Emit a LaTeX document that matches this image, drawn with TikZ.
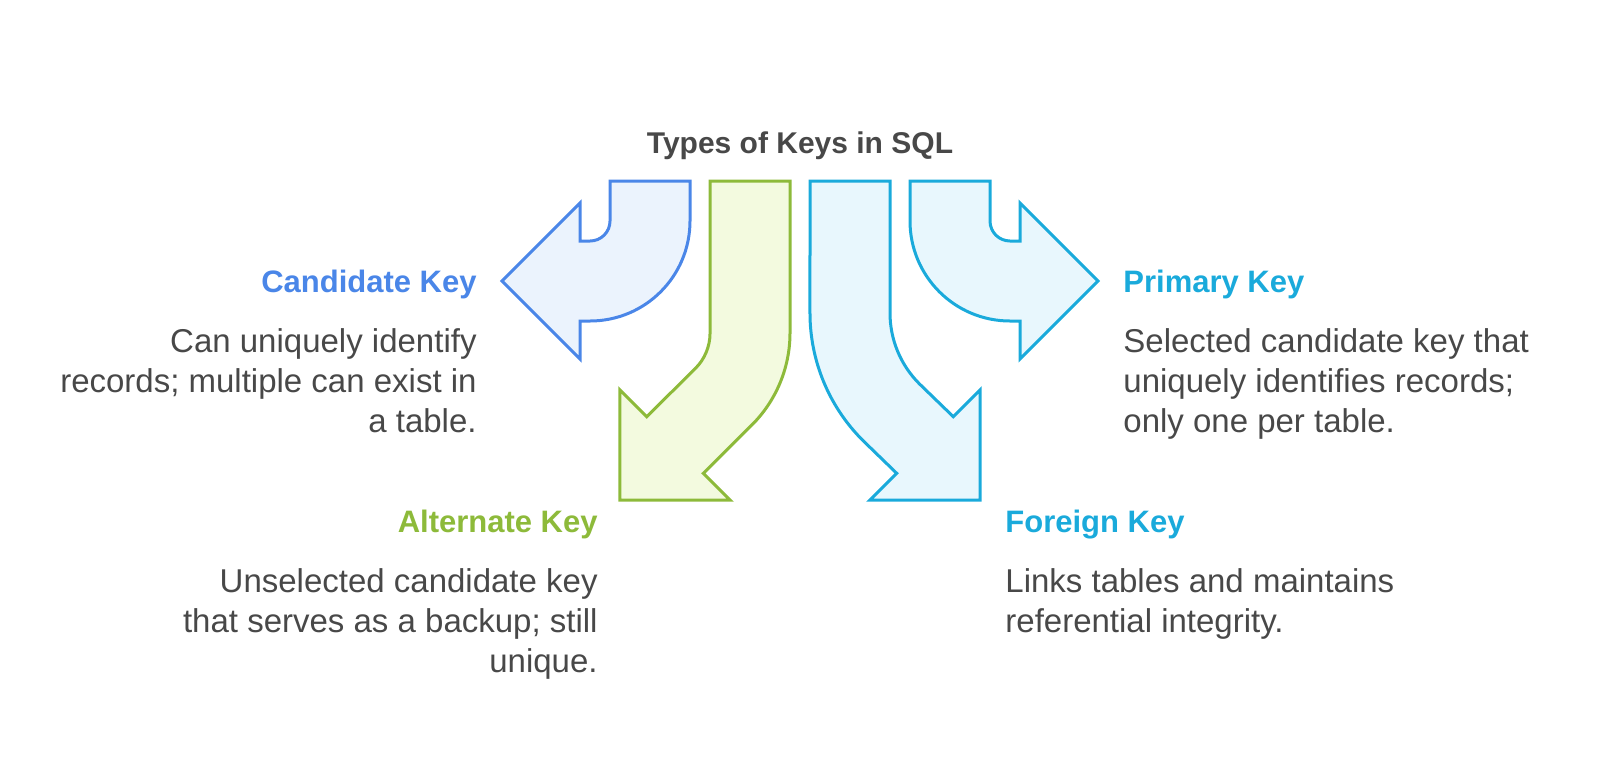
\documentclass[tikz,border=0pt]{standalone}
\usepackage{fontspec}
\setmainfont{Liberation Sans}
\usepackage{tikz}

\definecolor{candline}{HTML}{4A86E8}
\definecolor{candfill}{HTML}{EBF3FD}
\definecolor{altline}{HTML}{8DBA3A}
\definecolor{altfill}{HTML}{F3FADF}
\definecolor{keyline}{HTML}{1AAADB}
\definecolor{keyfill}{HTML}{E8F7FD}
\definecolor{bodygray}{HTML}{484848}

\begin{document}
\begin{tikzpicture}[x=0.5pt, y=-0.5pt,
    keyarrow/.style={line width=1.5pt, line join=miter},
    keytitle/.style={inner sep=0pt, anchor=base, text=bodygray,
      font=\fontsize{15}{18}\selectfont\bfseries},
    keyhead/.style={inner sep=0pt, font=\fontsize{15.5}{18}\selectfont\bfseries},
    keybody/.style={inner sep=0pt, text=bodygray,
      font=\fontsize{16.5}{20}\selectfont}]

    \useasboundingbox (0,0) rectangle (1600,762);

    \node[keytitle] (title) at (800,153) {Types of Keys in SQL};

    % candidate key arrow, bends left
    \draw[keyarrow, draw=candline, fill=candfill]
      (690,181) -- (610,181) -- (610,221)
      arc[start angle=0, end angle=90, radius=20] -- (580,241)
      -- (580,203) -- (502,281) -- (580,359) -- (580,321) -- (590,321)
      arc[start angle=90, end angle=0, radius=100] -- cycle;

    % alternate key arrow, bends down left
    \draw[keyarrow, draw=altline, fill=altfill]
      (710,181) -- (790,181) -- (790,333)
      arc[start angle=0, end angle=45, radius=130] -- (703.3,473.3)
      -- (730.2,500.2) -- (619.8,500.2) -- (619.8,389.8) -- (646.7,416.7)
      -- (695.4,368.4) arc[start angle=45, end angle=0, radius=50] -- cycle;

    % foreign key arrow, bends down right
    \draw[keyarrow, draw=keyline, fill=keyfill]
      (810,181) -- (890,181) -- (890,313)
      arc[start angle=180, end angle=135, radius=100] -- (953.3,416.7)
      -- (980.2,389.8) -- (980.2,500.2) -- (869.8,500.2) -- (896.7,473.3)
      -- (862.7,440.3) arc[start angle=135, end angle=180, radius=180] -- cycle;

    % primary key arrow, bends right
    \draw[keyarrow, draw=keyline, fill=keyfill]
      (910,181) -- (990,181) -- (990,221)
      arc[start angle=180, end angle=90, radius=20] -- (1020,241)
      -- (1020,203) -- (1098,281) -- (1020,359) -- (1020,321) -- (1010,321)
      arc[start angle=90, end angle=180, radius=100] -- cycle;

    % labels (body nodes sit on the baseline of their last line)
    \node[keyhead, text=candline, anchor=base east] (candhead) at (477,292) {Candidate Key};
    \node[keybody, align=right, anchor=base east] (candbody) at (477,432)
      {Can uniquely identify\\records; multiple can exist in\\a table.};

    \node[keyhead, text=keyline, anchor=base west] (primhead) at (1123,292) {Primary Key};
    \node[keybody, align=left, anchor=base west] (primbody) at (1123,432)
      {Selected candidate key that\\uniquely identifies records;\\only one per table.};

    \node[keyhead, text=altline, anchor=base east] (althead) at (598,532) {Alternate Key};
    \node[keybody, align=right, anchor=base east] (altbody) at (598,672)
      {Unselected candidate key\\that serves as a backup; still\\unique.};

    \node[keyhead, text=keyline, anchor=base west] (forhead) at (1005,532) {Foreign Key};
    \node[keybody, align=left, anchor=base west] (forbody) at (1005,632)
      {Links tables and maintains\\referential integrity.};
\end{tikzpicture}
\end{document}
